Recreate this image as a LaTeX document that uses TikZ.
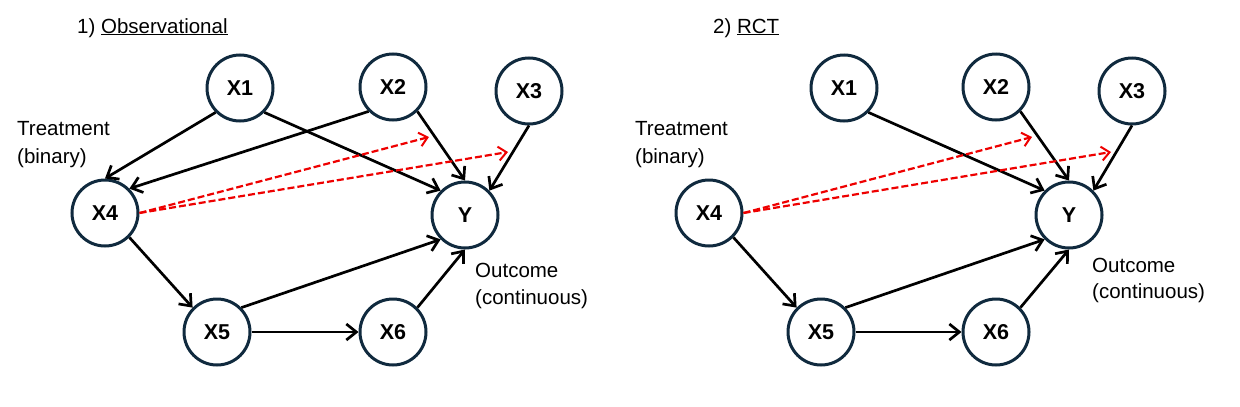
\documentclass[tikz,border=0pt]{standalone}
\usepackage{fontspec}
\setmainfont{Liberation Sans}
\usetikzlibrary{arrows.meta}
\definecolor{nodeborder}{RGB}{16,42,62}
\definecolor{dashred}{RGB}{238,0,0}
\tikzset{
  var/.style={circle, draw=nodeborder, line width=3pt, fill=white, minimum size=66pt, inner sep=0pt,
    font=\fontsize{21.5}{24}\selectfont\bfseries},
  edge/.style={draw=black, line width=2.7pt, -{Straight Barb[length=10pt,width=16pt,line width=2.7pt]}},
  redge/.style={draw=dashred, line width=2.2pt, dash pattern=on 7pt off 3pt, -{Straight Barb[length=8pt,width=14pt,line width=2pt]}},
  lbl/.style={anchor=base west, inner sep=0pt, font=\fontsize{20.5}{24}\selectfont}
}
\begin{document}
\begin{tikzpicture}[x=1pt,y=-1pt]
\useasboundingbox (0,0) rectangle (1240,407);

% ---------- Panel 1 ----------
\node[lbl] (t1) at (77,33) {1) \underline{Observational}};
\node[lbl] (tr1a) at (17,135) {Treatment};
\node[lbl] (tr1b) at (17,163) {(binary)};
\node[lbl] (oc1a) at (475,277) {Outcome};
\node[lbl] (oc1b) at (475,304) {(continuous)};

\node[var] (a1) at (240,88) {X1};
\node[var] (a2) at (393,87) {X2};
\node[var] (a3) at (529,91) {X3};
\node[var] (a4) at (105,213) {X4};
\node[var] (ay) at (465,215) {Y};
\node[var] (a5) at (217,332) {X5};
\node[var] (a6) at (393,332) {X6};

\coordinate (ar1) at (429,137);
\coordinate (ar2) at (508,152);

\draw[edge] (a1.south west) -- (a4.north);
\draw[edge] (a2.south west) -- (a4.north east);
\draw[edge] (a1.south east) -- (ay.north west);
\draw[edge] (a2.south east) -- (ay.north);
\draw[edge] (a3.south) -- (ay.north east);
\draw[edge] (a4.south east) -- (a5.north west);
\draw[edge] (a5.north east) -- (ay.south west);
\draw[edge] (a5.east) -- (a6.west);
\draw[edge] (a6.north east) -- (ay.south);
\draw[redge] (a4.east) -- (ar1);
\draw[redge] (a4.east) -- (ar2);

% ---------- Panel 2 ----------
\node[lbl] (t2) at (713,33) {2) \underline{RCT}};
\node[lbl] (tr2a) at (635,135) {Treatment};
\node[lbl] (tr2b) at (635,163) {(binary)};
\node[lbl] (oc2a) at (1092,272) {Outcome};
\node[lbl] (oc2b) at (1092,298) {(continuous)};

\node[var] (b1) at (844,88) {X1};
\node[var] (b2) at (996,87) {X2};
\node[var] (b3) at (1132,91) {X3};
\node[var] (b4) at (709,213) {X4};
\node[var] (by) at (1069,215) {Y};
\node[var] (b5) at (821,332) {X5};
\node[var] (b6) at (996,332) {X6};

\coordinate (br1) at (1032,137);
\coordinate (br2) at (1111,152);

\draw[edge] (b1.south east) -- (by.north west);
\draw[edge] (b2.south east) -- (by.north);
\draw[edge] (b3.south) -- (by.north east);
\draw[edge] (b4.south east) -- (b5.north west);
\draw[edge] (b5.north east) -- (by.south west);
\draw[edge] (b5.east) -- (b6.west);
\draw[edge] (b6.north east) -- (by.south);
\draw[redge] (b4.east) -- (br1);
\draw[redge] (b4.east) -- (br2);
\end{tikzpicture}
\end{document}
